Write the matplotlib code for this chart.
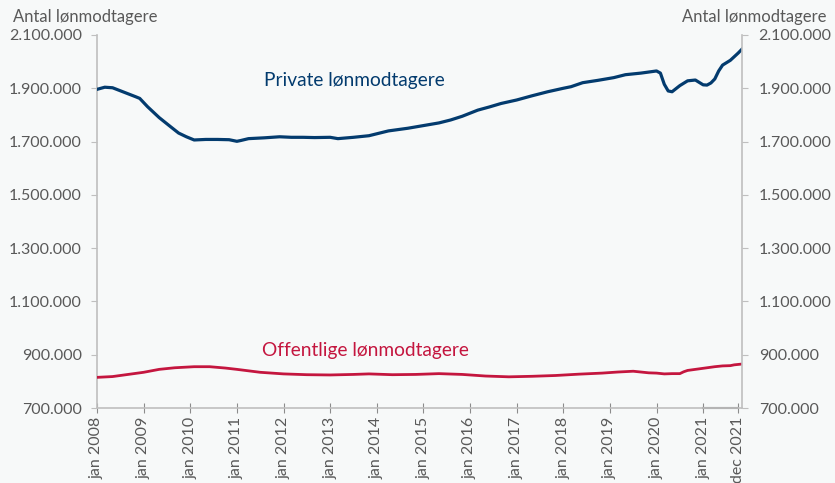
import matplotlib
matplotlib.use("Agg")
import matplotlib.pyplot as plt
from matplotlib.ticker import FuncFormatter

plt.rcParams['font.family'] = ['Lato', 'DejaVu Sans']

# Month index (0 = jan 2008)
private_m = [0, 2, 4, 7, 10, 11, 13, 16, 19, 21, 23, 25, 28, 31, 34, 36, 37, 39, 43, 47,
             50, 53, 56, 60, 62, 66, 70, 75, 80, 84, 88, 91, 94, 98, 101, 104, 108, 112,
             116, 120, 122, 125, 129, 133, 136, 140, 144, 145, 146, 147, 148, 150, 152,
             154, 156, 157, 158, 159, 160, 161, 163, 165, 166]
private_v = [1896000, 1904000, 1902000, 1885000, 1868000, 1862000, 1831000, 1790000,
             1755000, 1732000, 1718000, 1706000, 1708000, 1708000, 1707000, 1701000,
             1704000, 1711000, 1714000, 1718000, 1716000, 1716000, 1715000, 1716000,
             1711000, 1716000, 1722000, 1740000, 1750000, 1760000, 1770000, 1781000,
             1795000, 1818000, 1830000, 1843000, 1856000, 1872000, 1887000, 1900000,
             1906000, 1921000, 1930000, 1940000, 1951000, 1957000, 1965000, 1957000,
             1915000, 1890000, 1887000, 1910000, 1928000, 1931000, 1913000, 1912000,
             1920000, 1935000, 1965000, 1987000, 2005000, 2032000, 2047000]

public_m = [0, 4, 8, 12, 16, 20, 25, 29, 33, 36, 42, 48, 54, 60, 66, 70, 76, 82, 88, 94,
            100, 106, 112, 118, 124, 130, 134, 138, 140, 142, 144, 146, 148, 150, 151,
            152, 154, 157, 159, 161, 163, 164, 166]
public_v = [815000, 818000, 826000, 834000, 845000, 851000, 855000, 855000, 850000,
            845000, 834000, 828000, 825000, 824000, 826000, 828000, 825000, 826000,
            829000, 826000, 820000, 817000, 819000, 822000, 827000, 831000, 835000,
            838000, 835000, 832000, 831000, 828000, 829000, 829000, 836000, 841000,
            845000, 851000, 855000, 858000, 859000, 862000, 865000]

tick_pos = [0, 12, 24, 36, 48, 60, 72, 84, 96, 108, 120, 132, 144, 156, 165]
tick_labels = ['jan 2008', 'jan 2009', 'jan 2010', 'jan 2011', 'jan 2012', 'jan 2013',
               'jan 2014', 'jan 2015', 'jan 2016', 'jan 2017', 'jan 2018', 'jan 2019',
               'jan 2020', 'jan 2021', 'dec 2021']
y_ticks = [700000, 900000, 1100000, 1300000, 1500000, 1700000, 1900000, 2100000]

navy = '#033b6e'
red = '#c4163f'
grey_txt = '#595959'
spine_c = '#bfbfbf'
bg = '#f7f9f9'

fig = plt.figure(figsize=(8.35, 4.83), dpi=100, facecolor=bg)
ax = fig.add_axes([97/835, 1-408/483, (742-97)/835, (408-35)/483])
ax.set_facecolor(bg)

ax.plot(private_m, private_v, color=navy, lw=2.3, solid_joinstyle='round', zorder=3)
ax.plot(public_m, public_v, color=red, lw=2.0, solid_joinstyle='round', zorder=3)
ax.plot([156, 165], [700000, 700000], color='#7f7f7f', lw=1.5, zorder=2, clip_on=False)

ax.set_xlim(0, 166)
ax.set_ylim(700000, 2100000)

fmt = FuncFormatter(lambda v, p: f"{int(v):,}".replace(',', '.'))
ax.set_yticks(y_ticks)
ax.yaxis.set_major_formatter(fmt)
ax.set_xticks(tick_pos)
ax.set_xticklabels(tick_labels, rotation=90)

for s in ['top', 'right']:
    ax.spines[s].set_visible(False)
for s in ['left', 'bottom']:
    ax.spines[s].set_color(spine_c)
    ax.spines[s].set_linewidth(1.2)

ax.tick_params(axis='y', direction='out', length=4, color=spine_c, labelcolor=grey_txt,
               labelsize=11.5, pad=7)
ax.tick_params(axis='x', direction='inout', length=7, color='#8c8c8c', labelcolor=grey_txt,
               labelsize=11.5, pad=3)

ax2 = ax.twinx()
ax2.set_ylim(700000, 2100000)
ax2.set_yticks(y_ticks)
ax2.yaxis.set_major_formatter(fmt)
for s in ['top', 'left', 'bottom']:
    ax2.spines[s].set_visible(False)
ax2.spines['right'].set_color(spine_c)
ax2.spines['right'].set_linewidth(1.2)
ax2.tick_params(axis='y', direction='out', length=4, color=spine_c, labelcolor=grey_txt,
                labelsize=11.5, pad=8)

ax.text(66.3, 1931000, 'Private lønmodtagere', color=navy, fontsize=13.8,
        ha='center', va='center')
ax.text(69.2, 917000, 'Offentlige lønmodtagere', color=red, fontsize=13.8,
        ha='center', va='center')

fig.text(13/835, 1-17/483, 'Antal lønmodtagere', color=grey_txt, fontsize=12,
         ha='left', va='center')
fig.text(826/835, 1-17/483, 'Antal lønmodtagere', color=grey_txt, fontsize=12,
         ha='right', va='center')

fig.savefig('out.png', dpi=100, facecolor=bg)
